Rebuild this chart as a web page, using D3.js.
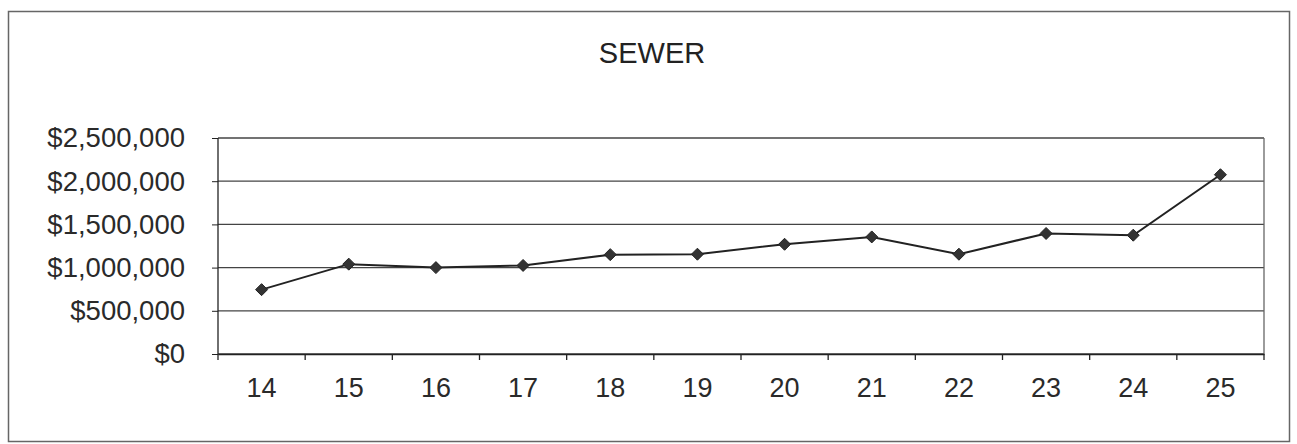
<!DOCTYPE html>
<html>
<head>
<meta charset="utf-8">
<script src="https://cdn.jsdelivr.net/npm/d3@7"></script>
<style>
  body { margin: 0; background: #fff; }
  svg { display: block; font-family: "Liberation Sans", Arial, sans-serif; }
</style>
</head>
<body>
<div id="chart"></div>
<script>
// data
const years = ["14", "15", "16", "17", "18", "19", "20", "21", "22", "23", "24", "25"];
const sewer = [745000, 1040000, 1000000, 1025000, 1150000, 1155000, 1270000, 1355000, 1155000, 1395000, 1375000, 2075000];
const yTicks = [0, 500000, 1000000, 1500000, 2000000, 2500000];
const title = "SEWER";

const width = 1297, height = 444;
const plot = { left: 218, right: 1264, top: 138, bottom: 354 };

const svg = d3.select("#chart")
    .append("svg")
    .attr("width", width)
    .attr("height", height);

// outer frame
svg.append("rect")
    .attr("x", 8.5)
    .attr("y", 11.5)
    .attr("width", 1281)
    .attr("height", 430)
    .attr("fill", "none")
    .attr("stroke", "#666")
    .attr("stroke-width", 1.5);

svg.append("text")
    .attr("x", 652)
    .attr("y", 63)
    .attr("text-anchor", "middle")
    .style("font-size", "29px")
    .attr("fill", "#222")
    .text(title);

const x = d3.scaleBand()
    .domain(years)
    .range([plot.left, plot.right])
    .padding(0);

const y = d3.scaleLinear()
    .domain([0, 2500000])
    .range([plot.bottom, plot.top]);

// gridlines
svg.append("g")
    .selectAll("line")
    .data(yTicks)
    .enter().append("line")
        .attr("x1", plot.left)
        .attr("x2", plot.right)
        .attr("y1", d => y(d))
        .attr("y2", d => y(d))
        .attr("stroke", "#444")
        .attr("stroke-width", 1.3);

// right side of plot box
svg.append("line")
    .attr("x1", plot.right).attr("x2", plot.right)
    .attr("y1", plot.top).attr("y2", plot.bottom)
    .attr("stroke", "#666")
    .attr("stroke-width", 1.3);

// y axis
const yAxis = svg.append("g")
    .attr("transform", `translate(${plot.left},0)`)
    .call(d3.axisLeft(y).tickValues(yTicks).tickSize(6).tickPadding(27).tickFormat(d3.format("$,")));
yAxis.select(".domain").attr("d", `M0,${plot.top}V${plot.bottom + 6}`).attr("stroke", "#222").attr("stroke-width", 1.3);
yAxis.selectAll(".tick line").attr("stroke", "#222");
yAxis.selectAll("text").style("font-size", "27.5px").attr("fill", "#2a2a2a");
yAxis.attr("font-family", null);

// x axis: labels at band centres, ticks on band boundaries
const xAxis = svg.append("g")
    .attr("transform", `translate(0,${plot.bottom})`)
    .call(d3.axisBottom(x).tickSize(0).tickPadding(24));
xAxis.select(".domain").attr("stroke", "#222").attr("stroke-width", 1.3);
xAxis.selectAll("text").style("font-size", "27px").attr("fill", "#2a2a2a");
xAxis.attr("font-family", null);

const bounds = years.map(d => x(d) + x.bandwidth());
xAxis.selectAll(".bound")
    .data(bounds)
    .enter().append("line")
        .attr("class", "bound")
        .attr("x1", d => d).attr("x2", d => d)
        .attr("y1", 0).attr("y2", 6)
        .attr("stroke", "#222")
        .attr("stroke-width", 1.3);

// series line + markers
const pts = years.map((d, i) => [x(d) + x.bandwidth() / 2, y(sewer[i])]);

svg.append("path")
    .datum(pts)
    .attr("fill", "none")
    .attr("stroke", "#222")
    .attr("stroke-width", 2)
    .attr("d", d3.line());

svg.append("g")
    .selectAll("path")
    .data(pts)
    .enter().append("path")
        .attr("transform", d => `translate(${d[0]},${d[1]})`)
        .attr("d", "M0,-6L6,0L0,6L-6,0Z")
        .attr("fill", "#333")
        .attr("stroke", "#222")
        .attr("stroke-width", 1);
</script>
</body>
</html>
